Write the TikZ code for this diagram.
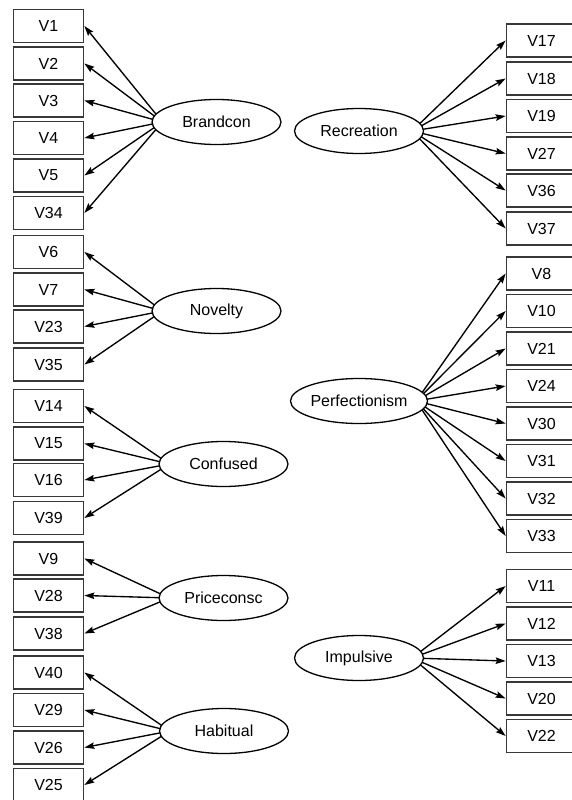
\documentclass[tikz,border=0pt]{standalone}
\usepackage{fontspec}
\setmainfont{Liberation Sans}
\usetikzlibrary{arrows.meta,calc,shapes.geometric}
\pgfdeclarelayer{bg}
\pgfsetlayers{bg,main}
\begin{document}
\begin{tikzpicture}[x=1pt,y=-1pt,
  obs/.style={draw=black!78,line width=1.7pt,minimum width=70pt,minimum height=33pt,inner sep=0pt,fill=white,font=\fontsize{16}{19}\selectfont},
  lat/.style={ellipse,draw=black,line width=1.3pt,fill=white,minimum width=129pt,minimum height=45pt,inner sep=0pt,font=\fontsize{16}{19}\selectfont},
  arr/.style={-{Stealth[length=10pt,width=6.5pt,inset=1.5pt]},line width=1.35pt,draw=black}]
\useasboundingbox (0,0) rectangle (572,800);
\clip (0,0) rectangle (572,800);
% left observed variables
\node[obs] (v1)  at (48.5,26)    {V1};
\node[obs] (v2)  at (48.5,63.5)  {V2};
\node[obs] (v3)  at (48.5,100.5) {V3};
\node[obs] (v4)  at (48.5,138)   {V4};
\node[obs] (v5)  at (48.5,175.5) {V5};
\node[obs] (v34) at (48.5,213)   {V34};
\node[obs] (v6)  at (48.5,252)   {V6};
\node[obs] (v7)  at (48.5,289.5) {V7};
\node[obs] (v23) at (48.5,326.5) {V23};
\node[obs] (v35) at (48.5,364.5) {V35};
\node[obs] (v14) at (48.5,406)   {V14};
\node[obs] (v15) at (48.5,443.5) {V15};
\node[obs] (v16) at (48.5,480)   {V16};
\node[obs] (v39) at (48.5,518)   {V39};
\node[obs] (v9)  at (48.5,558.5) {V9};
\node[obs] (v28) at (48.5,595.5) {V28};
\node[obs] (v38) at (48.5,633.5) {V38};
\node[obs] (v40) at (48.5,672.5) {V40};
\node[obs] (v29) at (48.5,710)   {V29};
\node[obs] (v26) at (48.5,747.5) {V26};
\node[obs] (v25) at (48.5,785)   {V25};
% right observed variables
\node[obs] (v17) at (541.5,40.5)  {V17};
\node[obs] (v18) at (541.5,78.5)  {V18};
\node[obs] (v19) at (541.5,116)   {V19};
\node[obs] (v27) at (541.5,153.5) {V27};
\node[obs] (v36) at (541.5,190.5) {V36};
\node[obs] (v37) at (541.5,228.5) {V37};
\node[obs] (v8)  at (541.5,273.5) {V8};
\node[obs] (v10) at (541.5,311)   {V10};
\node[obs] (v21) at (541.5,348.5) {V21};
\node[obs] (v24) at (541.5,386)   {V24};
\node[obs] (v30) at (541.5,423.5) {V30};
\node[obs] (v31) at (541.5,461)   {V31};
\node[obs] (v32) at (541.5,498.5) {V32};
\node[obs] (v33) at (541.5,536)   {V33};
\node[obs] (v11) at (541.5,586)   {V11};
\node[obs] (v12) at (541.5,623.5) {V12};
\node[obs] (v13) at (541.5,661)   {V13};
\node[obs] (v20) at (541.5,698.5) {V20};
\node[obs] (v22) at (541.5,736)   {V22};
% latent variables
\node[lat] (brand) at (216.5,122) {Brandcon};
\node[lat] (nov)   at (216.5,311) {Novelty};
\node[lat] (conf)  at (223.5,464) {Confused};
\node[lat] (price) at (223.5,598) {Priceconsc};
\node[lat] (hab)   at (224,731)   {Habitual};
\node[lat] (rec)   at (359,131)   {Recreation};
\node[lat] (perf)  at (359,401)   {Perfectionism};
\node[lat] (imp)   at (359,658)   {Impulsive};
% origins of the connectors, just inside the ellipses
\coordinate (brandO) at ($(brand.west)+(11,0)$);
\coordinate (novO)   at ($(nov.west)+(11,0)$);
\coordinate (confO)  at ($(conf.west)+(11,0)$);
\coordinate (priceO) at ($(price.west)+(11,0)$);
\coordinate (habO)   at ($(hab.west)+(11,0)$);
\coordinate (recO)   at ($(rec.east)+(-12,0)$);
\coordinate (perfO)  at ($(perf.east)+(-12,0)$);
\coordinate (impO)   at ($(imp.east)+(-12,0)$);
\begin{pgfonlayer}{bg}
\foreach \v in {v1,v2,v3,v4,v5,v34} \draw[arr] (brandO) -- (\v.east);
\foreach \v in {v6,v7,v23,v35} \draw[arr] (novO) -- (\v.east);
\foreach \v in {v14,v15,v16,v39} \draw[arr] (confO) -- (\v.east);
\foreach \v in {v9,v28,v38} \draw[arr] (priceO) -- (\v.east);
\foreach \v in {v40,v29,v26,v25} \draw[arr] (habO) -- (\v.east);
\foreach \v in {v17,v18,v19,v27,v36,v37} \draw[arr] (recO) -- (\v.west);
\foreach \v in {v8,v10,v21,v24,v30,v31,v32,v33} \draw[arr] (perfO) -- (\v.west);
\foreach \v in {v11,v12,v13,v20,v22} \draw[arr] (impO) -- (\v.west);
\end{pgfonlayer}
\end{tikzpicture}
\end{document}
